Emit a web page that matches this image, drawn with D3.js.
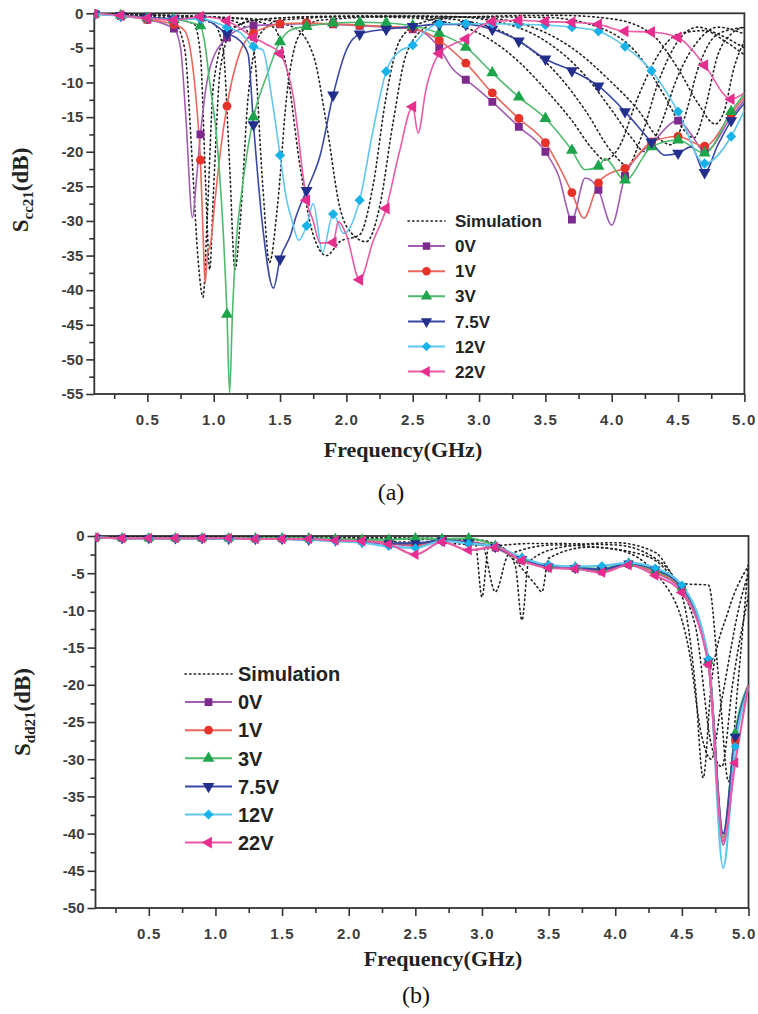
<!DOCTYPE html>
<html>
<head>
<meta charset="utf-8">
<script src="https://cdn.jsdelivr.net/npm/d3@7"></script>
<style>
  body { margin: 0; background: #fff; }
</style>
</head>
<body>
<svg id="fig" width="758" height="1014"></svg>
<script>
// Curve data: [frequency GHz, dB]
const voltages = ["0V", "1V", "3V", "7.5V", "12V", "22V"];
const xTickLabels = [0.5, 1.0, 1.5, 2.0, 2.5, 3.0, 3.5, 4.0, 4.5, 5.0];
const yTicksA = [0, -5, -10, -15, -20, -25, -30, -35, -40, -45, -50, -55];
const yTicksB = [0, -5, -10, -15, -20, -25, -30, -35, -40, -45, -50];

// (a) Scc21 measured
const cc0V = [[0.1,-0.1],[0.3,-0.4],[0.5,-0.9],[0.7,-2.2],[0.75,-5],[0.79,-15],[0.84,-29.5],[0.87,-24],[0.9,-17.5],[0.97,-8],[1.1,-3.5],[1.2,-2.3],[1.3,-1.8],[1.5,-1.6],[1.7,-1.5],[1.9,-1.6],[2.1,-1.8],[2.3,-2.0],[2.5,-2.3],[2.6,-3.0],[2.7,-5.0],[2.8,-8.0],[2.9,-9.6],[2.98,-10.8],[3.1,-12.8],[3.3,-16.4],[3.5,-20.0],[3.6,-23.5],[3.7,-29.8],[3.8,-23.8],[3.9,-25.5],[4.0,-30.6],[4.1,-23.5],[4.2,-20.5],[4.3,-18.8],[4.5,-15.5],[4.6,-17.5],[4.7,-20],[4.9,-15],[5.0,-12.5]];
const cc1V = [[0.1,-0.1],[0.3,-0.4],[0.5,-0.9],[0.7,-1.6],[0.78,-2.5],[0.83,-6],[0.87,-13],[0.9,-21.2],[0.92,-32],[0.935,-39],[0.955,-34.5],[0.975,-33.5],[1.01,-27],[1.05,-20],[1.1,-13.4],[1.2,-5.5],[1.3,-2.9],[1.4,-2.0],[1.5,-1.5],[1.7,-1.4],[1.9,-1.5],[2.1,-1.7],[2.3,-1.9],[2.5,-2.2],[2.6,-2.8],[2.7,-3.9],[2.9,-7.2],[3.1,-11.5],[3.3,-15.2],[3.5,-18.7],[3.7,-25.9],[3.79,-29.6],[3.9,-24.5],[4.0,-23],[4.1,-22.4],[4.3,-18.6],[4.5,-17.8],[4.7,-19.2],[4.9,-14.5],[5.0,-12]];
const cc3V = [[0.1,-0.1],[0.3,-0.3],[0.5,-0.7],[0.7,-0.9],[0.9,-1.8],[0.93,-4],[0.97,-10],[1.02,-17.5],[1.07,-31],[1.1,-43.5],[1.12,-54.8],[1.14,-44],[1.17,-33],[1.21,-26],[1.3,-15],[1.4,-9],[1.5,-4.1],[1.58,-2.4],[1.7,-1.9],[1.9,-1.4],[2.1,-1.3],[2.3,-1.4],[2.5,-1.8],[2.7,-2.9],[2.9,-4.9],[3.1,-8.6],[3.3,-12.1],[3.5,-15.2],[3.7,-19.8],[3.8,-22.6],[3.9,-22.1],[3.95,-21],[4.1,-24.1],[4.3,-19.3],[4.5,-18.3],[4.7,-20.2],[4.9,-14.2],[5.0,-11.6]];
const cc75V = [[0.1,-0.1],[0.3,-0.3],[0.5,-0.6],[0.7,-0.8],[0.9,-0.7],[1.1,-2.9],[1.2,-4.0],[1.26,-6],[1.3,-16.1],[1.37,-31],[1.45,-39.7],[1.5,-35.5],[1.58,-32],[1.62,-29.4],[1.7,-25.6],[1.8,-20.7],[1.9,-11.8],[2.0,-5.3],[2.1,-3.0],[2.3,-2.3],[2.5,-1.9],[2.7,-1.6],[2.9,-1.6],[3.1,-2.3],[3.3,-4.0],[3.5,-6.6],[3.7,-8.3],[3.9,-10.5],[4.1,-14.2],[4.3,-18.6],[4.4,-20.5],[4.5,-20.2],[4.6,-19.3],[4.7,-23],[4.8,-19],[4.9,-15.5],[5.0,-13]];
const cc12V = [[0.1,-0.1],[0.3,-0.4],[0.5,-0.7],[0.7,-0.9],[0.9,-0.8],[1.1,-2.0],[1.2,-2.8],[1.3,-4.8],[1.37,-5.3],[1.44,-12.5],[1.5,-20.5],[1.55,-27],[1.59,-29.9],[1.64,-32.8],[1.7,-30.7],[1.75,-27.5],[1.82,-34.5],[1.9,-29],[1.98,-31.8],[2.1,-27],[2.2,-17],[2.3,-8.4],[2.4,-5.5],[2.5,-4.6],[2.6,-2.5],[2.7,-1.5],[2.9,-1.5],[3.1,-1.5],[3.3,-1.6],[3.5,-1.7],[3.7,-2.0],[3.9,-2.6],[4.1,-4.8],[4.3,-8.3],[4.5,-14.2],[4.7,-21.7],[4.9,-17.8],[5.0,-14]];
const cc22V = [[0.1,0],[0.3,-0.3],[0.5,-0.7],[0.7,-1.0],[0.9,-0.5],[1.1,-1.1],[1.3,-3.5],[1.4,-4.5],[1.5,-5.8],[1.55,-8],[1.6,-12],[1.63,-16.4],[1.67,-23],[1.7,-27],[1.75,-30],[1.8,-33.2],[1.9,-33.1],[1.94,-30.1],[2.0,-32],[2.1,-38.5],[2.2,-33],[2.3,-28.2],[2.4,-20],[2.5,-13.5],[2.54,-17.3],[2.6,-11],[2.7,-5.8],[2.8,-4.5],[2.9,-3.7],[3.0,-2],[3.1,-1.2],[3.3,-1.0],[3.5,-1.2],[3.7,-1.3],[3.9,-1.6],[4.1,-2.6],[4.3,-2.7],[4.5,-3.5],[4.7,-7.5],[4.9,-12.4],[5.0,-11.5]];

// (a) simulation traces (dotted)
const simA0 = [[0.1,-0.1],[0.5,-0.5],[0.7,-1.3],[0.78,-5],[0.84,-22],[0.88,-35],[0.92,-41],[0.95,-30],[1.0,-10],[1.1,-3],[1.3,-1],[1.8,-0.5],[2.4,-0.6],[2.8,-1.5],[3.1,-4],[3.3,-7],[3.5,-11],[3.7,-15.5],[3.85,-19.5],[3.95,-21.2],[4.05,-19.5],[4.2,-12],[4.35,-6],[4.5,-3],[4.7,-2.5],[4.85,-4],[5.0,-6]];
const simA1 = [[0.1,-0.1],[0.6,-0.6],[0.85,-1.5],[0.9,-6],[0.94,-25],[0.97,-37],[1.0,-25],[1.05,-8],[1.15,-2],[1.4,-0.8],[2.0,-0.4],[2.6,-0.6],[3.0,-1.5],[3.3,-4],[3.6,-9],[3.8,-14],[4.0,-20],[4.12,-22],[4.22,-18],[4.35,-10],[4.5,-4],[4.65,-2],[4.8,-3],[5.0,-5]];
const simA2 = [[0.1,-0.1],[0.8,-0.6],[1.0,-1.5],[1.07,-5],[1.12,-22],[1.16,-37],[1.2,-30],[1.26,-12],[1.35,-3],[1.5,-1],[2.2,-0.4],[2.8,-0.5],[3.2,-1.5],[3.5,-4],[3.8,-9],[4.0,-14],[4.15,-18],[4.25,-20],[4.35,-17],[4.5,-9],[4.65,-4],[4.8,-2],[5.0,-3]];
const simA3 = [[0.1,-0.1],[1.0,-0.6],[1.2,-1.5],[1.3,-5],[1.37,-25],[1.42,-36],[1.48,-28],[1.55,-12],[1.65,-3],[1.8,-1],[2.5,-0.4],[3.0,-0.6],[3.4,-2],[3.7,-5],[4.0,-10],[4.2,-14],[4.35,-18],[4.45,-19],[4.55,-15],[4.65,-8],[4.8,-3],[5.0,-2]];
const simA4 = [[0.1,-0.1],[1.2,-0.8],[1.45,-2],[1.55,-8],[1.65,-22],[1.75,-32],[1.85,-35],[1.95,-33],[2.1,-32],[2.2,-25],[2.3,-12],[2.4,-4],[2.55,-1.5],[2.8,-0.5],[3.5,-0.6],[3.9,-2],[4.2,-6],[4.4,-12],[4.55,-17],[4.62,-18],[4.7,-14],[4.8,-6],[4.9,-3],[5.0,-2]];
const simA5 = [[0.1,-0.1],[1.3,-0.8],[1.6,-2],[1.75,-6],[1.85,-16],[1.95,-28],[2.05,-32],[2.15,-33],[2.25,-28],[2.35,-16],[2.45,-6],[2.6,-2],[2.8,-0.6],[3.6,-0.3],[4.0,-0.8],[4.3,-3],[4.5,-8],[4.65,-13],[4.78,-16],[4.85,-14],[4.92,-8],[5.0,-4]];

// (b) Sdd21 measured
const dd0V = [[0.1,-0.2],[0.3,-0.3],[0.5,-0.3],[0.7,-0.3],[0.9,-0.3],[1.1,-0.3],[1.3,-0.4],[1.5,-0.4],[1.7,-0.4],[1.9,-0.5],[2.1,-0.7],[2.3,-1.0],[2.5,-1.3],[2.7,-0.6],[2.9,-0.9],[3.1,-1.6],[3.3,-3.3],[3.5,-4.2],[3.7,-4.4],[3.9,-4.8],[4.1,-3.8],[4.3,-4.9],[4.5,-7.2],[4.7,-17.2],[4.81,-41.5],[4.9,-27.5],[5.0,-20.2]];
const dd1V = [[0.1,-0.2],[0.3,-0.3],[0.5,-0.3],[0.7,-0.3],[0.9,-0.3],[1.1,-0.3],[1.3,-0.4],[1.5,-0.4],[1.7,-0.4],[1.9,-0.5],[2.1,-0.6],[2.3,-0.9],[2.5,-1.2],[2.7,-0.6],[2.9,-0.8],[3.1,-1.5],[3.3,-3.2],[3.5,-4.1],[3.7,-4.3],[3.9,-4.6],[4.1,-3.8],[4.3,-4.8],[4.5,-7.0],[4.7,-17.0],[4.81,-41],[4.9,-27.5],[5.0,-20.2]];
const dd3V = [[0.1,-0.2],[0.3,-0.3],[0.5,-0.3],[0.7,-0.3],[0.9,-0.3],[1.1,-0.3],[1.3,-0.3],[1.5,-0.3],[1.7,-0.3],[1.9,-0.4],[2.1,-0.5],[2.3,-0.5],[2.5,-0.3],[2.7,-0.4],[2.9,-0.3],[3.1,-1.3],[3.3,-3.0],[3.5,-4.0],[3.7,-4.2],[3.9,-4.4],[4.1,-3.7],[4.3,-4.6],[4.5,-6.9],[4.7,-16.8],[4.81,-40.5],[4.9,-26.5],[5.0,-20]];
const dd75V = [[0.1,-0.2],[0.3,-0.3],[0.5,-0.3],[0.7,-0.3],[0.9,-0.3],[1.1,-0.4],[1.3,-0.4],[1.5,-0.4],[1.7,-0.5],[1.9,-0.6],[2.1,-0.8],[2.3,-1.0],[2.5,-1.0],[2.7,-0.6],[2.9,-0.9],[3.1,-1.5],[3.3,-3.1],[3.5,-4.1],[3.7,-4.3],[3.9,-4.5],[4.1,-3.7],[4.3,-4.5],[4.5,-6.8],[4.7,-16.8],[4.81,-40],[4.9,-27],[5.0,-20.2]];
const dd12V = [[0.1,-0.2],[0.3,-0.3],[0.5,-0.3],[0.7,-0.3],[0.9,-0.3],[1.1,-0.4],[1.3,-0.4],[1.5,-0.4],[1.7,-0.5],[1.9,-0.7],[2.1,-0.9],[2.3,-1.4],[2.5,-1.6],[2.7,-0.7],[2.9,-1.0],[3.1,-1.4],[3.3,-2.9],[3.5,-3.9],[3.7,-4.1],[3.9,-4.0],[4.1,-3.6],[4.3,-4.3],[4.5,-6.6],[4.7,-16.5],[4.81,-44.6],[4.9,-28.3],[5.0,-20.5]];
const dd22V = [[0.1,-0.2],[0.3,-0.3],[0.5,-0.3],[0.7,-0.3],[0.9,-0.3],[1.1,-0.3],[1.3,-0.4],[1.5,-0.4],[1.7,-0.4],[1.9,-0.6],[2.1,-0.7],[2.3,-1.1],[2.5,-2.5],[2.7,-0.8],[2.9,-1.9],[3.1,-1.5],[3.3,-3.3],[3.5,-4.3],[3.7,-4.4],[3.9,-4.9],[4.1,-3.9],[4.3,-5.3],[4.5,-7.6],[4.7,-17.3],[4.81,-41],[4.9,-30.5],[5.0,-20]];

// (b) simulation traces (dotted)
const simB0 = [[0.1,-0.1],[2.0,-0.2],[2.8,-0.4],[2.95,-1],[3.0,-8.2],[3.05,-1.5],[3.4,-1.0],[4.0,-1.2],[4.3,-3],[4.5,-8],[4.6,-20],[4.66,-32.5],[4.72,-20],[4.85,-10],[5.0,-4]];
const simB1 = [[0.1,-0.1],[2.9,-0.4],[3.15,-1.5],[3.25,-4],[3.3,-11.3],[3.35,-3.5],[3.6,-1.5],[4.0,-0.9],[4.3,-2.2],[4.5,-6.4],[4.7,-6.6],[4.78,-20],[4.85,-33],[4.92,-20],[5.0,-3.5]];
const simB2 = [[0.1,-0.1],[3.0,-0.6],[3.2,-2.5],[3.4,-6.5],[3.45,-7.5],[3.5,-3],[3.8,-1.5],[4.2,-2.5],[4.4,-5],[4.6,-12],[4.72,-28],[4.8,-31],[4.88,-20],[5.0,-8]];
const simB3 = [[0.1,-0.1],[3.0,-1.2],[3.1,-7.5],[3.2,-2.5],[3.55,-1.2],[4.0,-1.8],[4.35,-6],[4.55,-15],[4.65,-27],[4.72,-30],[4.8,-22],[4.95,-8],[5.0,-5]];

// styles
const markerFill = ["#7d2a8e", "#e5332a", "#1ea54c", "#232f8c", "#19b2e8", "#e62e8e"];
const lineStroke = ["#a35cb3", "#e9685c", "#4dbb6b", "#3a47a3", "#5ec7ee", "#ea5aa5"];
const markerType = ["square", "circle", "up", "down", "diamond", "left"];

const svg = d3.select("#fig");

function markerPath(type, size) {
  if (type === "square") return d3.symbol(d3.symbolSquare, size)();
  if (type === "circle") return d3.symbol(d3.symbolCircle, size)();
  if (type === "diamond") return d3.symbol(d3.symbolSquare, size * 0.85)();
  return d3.symbol(d3.symbolTriangle, size)();
}
function markerRot(type) {
  return { down: 180, left: -90, diamond: 45 }[type] || 0;
}
function isMarker(f) {
  const k = (f - 0.1) / 0.2;
  return Math.abs(k - Math.round(k)) < 1e-6;
}

function drawPanel(p) {
  const x = d3.scaleLinear().domain([0.1, 5.0]).range([p.left, p.right]);
  const y = d3.scaleLinear().domain([p.yTicks[p.yTicks.length - 1], 0]).range([p.bottom, p.top]);
  const g = svg.append("g");

  g.append("clipPath").attr("id", "clip" + p.id).append("rect")
    .attr("x", p.left).attr("y", p.top - 4)
    .attr("width", p.right - p.left).attr("height", p.bottom - p.top + 4);

  const tickFont = sel => sel.selectAll("text")
    .style("font-family", "'Liberation Sans', Arial, sans-serif")
    .style("font-weight", "bold").style("font-size", "15px").attr("fill", "#3c3c3c");

  // x axis
  const xMinor = d3.range(0.25, 5.0, 0.25).filter(v => Math.abs(v * 2 - Math.round(v * 2)) > 0.01);
  g.append("g").attr("transform", `translate(0,${p.bottom})`)
    .call(d3.axisBottom(x).tickValues(xTickLabels).tickSize(8).tickPadding(12).tickFormat(d3.format(".1f")))
    .call(tickFont)
    .call(a => a.selectAll("text").style("letter-spacing", "1.2px"))
    .call(a => a.selectAll("text").filter(d => d === 5.0)
      .attr("text-anchor", "end").attr("x", 756 - p.right));
  g.append("g").attr("transform", `translate(0,${p.bottom})`)
    .call(d3.axisBottom(x).tickValues(xMinor).tickSize(5).tickFormat(""));

  // y axis
  const yMinor = p.yTicks.slice(1).map(v => v + 2.5);
  g.append("g").attr("transform", `translate(${p.left},0)`)
    .call(d3.axisLeft(y).tickValues(p.yTicks).tickSize(8).tickPadding(3).tickFormat(d => d === 0 ? "0" : "-" + Math.abs(d)))
    .call(tickFont);
  g.append("g").attr("transform", `translate(${p.left},0)`)
    .call(d3.axisLeft(y).tickValues(yMinor).tickSize(5).tickFormat(""));

  g.selectAll(".domain").remove();
  g.selectAll(".tick line").attr("stroke", "#333").attr("stroke-width", 1.6);

  g.append("rect").attr("x", p.left).attr("y", p.top)
    .attr("width", p.right - p.left).attr("height", p.bottom - p.top)
    .attr("fill", "none").attr("stroke", "#333").attr("stroke-width", 1.8);

  const line = d3.line().x(d => x(d[0])).y(d => y(d[1])).curve(d3.curveMonotoneX);
  const plot = g.append("g").attr("clip-path", `url(#clip${p.id})`);

  plot.selectAll("path.sim").data(p.sims).enter().append("path")
    .attr("class", "sim").attr("d", line).attr("fill", "none")
    .attr("stroke", "#222").attr("stroke-width", 1.6)
    .attr("stroke-dasharray", "1.4,3.2").attr("stroke-linecap", "round");

  plot.selectAll("path.meas").data(p.series).enter().append("path")
    .attr("class", "meas").attr("d", line).attr("fill", "none")
    .attr("stroke", (d, i) => lineStroke[i]).attr("stroke-width", p.lineW);

  p.series.forEach((s, i) => {
    plot.selectAll(null).data(s.filter(d => isMarker(d[0]))).enter().append("path")
      .attr("d", markerPath(markerType[i], p.markSize))
      .attr("transform", d => `translate(${x(d[0])},${y(d[1])}) rotate(${markerRot(markerType[i])})`)
      .attr("fill", markerFill[i]);
  });

  // axis titles
  const yl = svg.append("text")
    .attr("transform", `translate(${p.ylX},${p.ylY}) rotate(-90)`)
    .attr("text-anchor", "middle").attr("fill", "#222")
    .style("font-family", "'Liberation Serif', 'Times New Roman', serif")
    .style("font-weight", "bold").style("font-size", "23px");
  yl.append("tspan").text("S");
  yl.append("tspan").attr("dy", 5).style("font-size", "15px").text(p.sub);
  yl.append("tspan").attr("dy", -5).text("(dB)");

  svg.append("text").attr("x", p.xlX).attr("y", p.xlY).attr("text-anchor", "middle")
    .attr("fill", "#222")
    .style("font-family", "'Liberation Serif', 'Times New Roman', serif")
    .style("font-weight", "bold").style("font-size", "22px").text("Frequency(GHz)");

  svg.append("text").attr("x", p.capX).attr("y", p.capY).attr("text-anchor", "middle")
    .attr("fill", "#111")
    .style("font-family", "'Liberation Serif', 'Times New Roman', serif")
    .style("font-size", "24px").text(p.caption);

  // legend
  const lg = svg.append("g").style("font-family", "'Liberation Sans', Arial, sans-serif")
    .style("font-weight", "bold").style("font-size", p.legFont + "px");
  const rows = ["Simulation"].concat(voltages);
  rows.forEach((name, r) => {
    const cy = p.legY + r * p.legStep;
    if (r === 0) {
      lg.append("line").attr("x1", p.legX0).attr("x2", p.legX1).attr("y1", cy).attr("y2", cy)
        .attr("stroke", "#222").attr("stroke-width", 1.6).attr("stroke-dasharray", "1.4,3.2").attr("stroke-linecap", "round");
    } else {
      const i = r - 1;
      lg.append("line").attr("x1", p.legX0).attr("x2", p.legX1).attr("y1", cy).attr("y2", cy)
        .attr("stroke", lineStroke[i]).attr("stroke-width", 2);
      lg.append("path").attr("d", markerPath(markerType[i], p.legMark))
        .attr("transform", `translate(${(p.legX0 + p.legX1) / 2},${cy}) rotate(${markerRot(markerType[i])})`)
        .attr("fill", markerFill[i]);
    }
    lg.append("text").attr("x", p.legText).attr("y", cy).attr("dy", "0.36em")
      .attr("fill", "#222").text(name);
  });
}

drawPanel({
  id: "a", left: 94.3, right: 744.4, top: 13.3, bottom: 394,
  yTicks: yTicksA, series: [cc0V, cc1V, cc3V, cc75V, cc12V, cc22V],
  sims: [simA0, simA1, simA2, simA3, simA4, simA5],
  lineW: 1.6, markSize: 62, sub: "cc21", ylX: 28, ylY: 190,
  xlX: 403, xlY: 457, caption: "(a)", capX: 391, capY: 500,
  legX0: 408, legX1: 445, legText: 455, legY: 221, legStep: 25.1, legFont: 17, legMark: 55
});

drawPanel({
  id: "b", left: 95.5, right: 748.5, top: 536, bottom: 908,
  yTicks: yTicksB, series: [dd0V, dd1V, dd3V, dd75V, dd12V, dd22V],
  sims: [simB0, simB1, simB2, simB3],
  lineW: 2.2, markSize: 50, sub: "dd21", ylX: 30, ylY: 712,
  xlX: 443, xlY: 966, caption: "(b)", capX: 416, capY: 1003,
  legX0: 185, legX1: 232, legText: 238, legY: 674, legStep: 28.1, legFont: 20, legMark: 60
});
</script>
</body>
</html>
